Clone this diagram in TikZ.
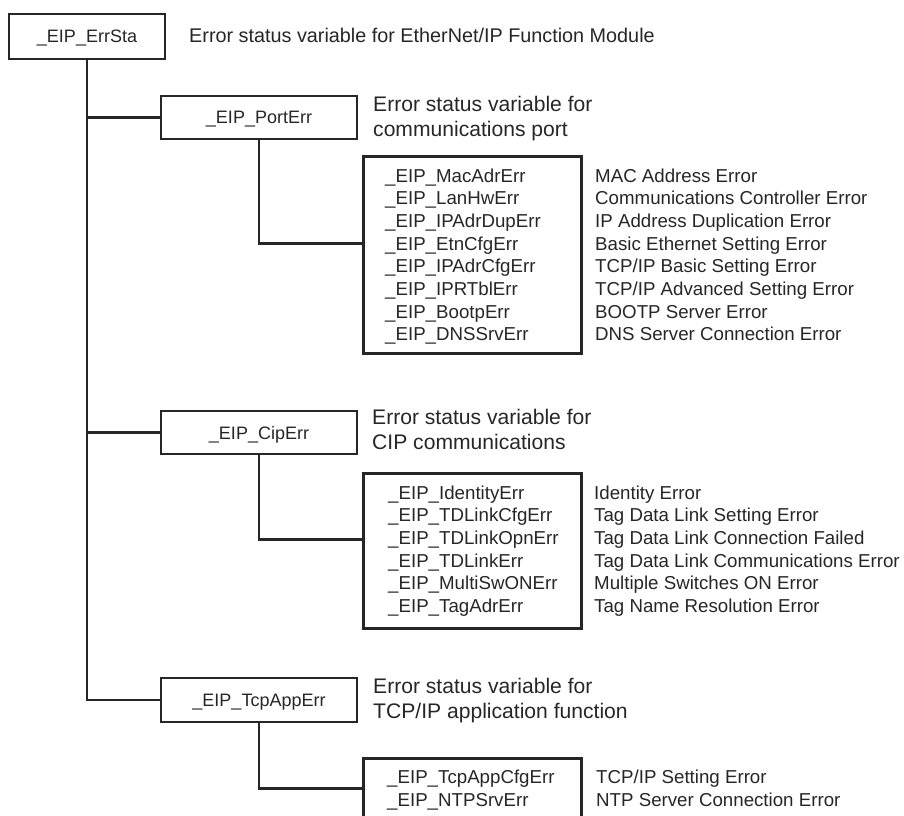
\documentclass[tikz,border=0pt]{standalone}
\usepackage{fontspec}
\setmainfont{Liberation Sans}

\begin{document}
\begin{tikzpicture}[x=1pt,y=-1pt]
\tikzstyle{link}=[draw=black!85,line width=2.8pt]
\tikzstyle{varbox}=[draw=black!85,line width=2.8pt,inner sep=0pt,text depth=0pt,
  text=black!85,minimum width=196pt,minimum height=43pt,font=\fontsize{18}{22}\selectfont]
\tikzstyle{listbox}=[draw=black!85,line width=2.8pt,anchor=north west,inner sep=0pt,
  minimum width=218pt]
\tikzstyle{listtext}=[anchor=north west,inner sep=0pt,align=left,text=black!85,
  font=\fontsize{18.7}{22.67}\selectfont,execute at begin node=\strut]
\tikzstyle{desc}=[anchor=north west,inner sep=0pt,align=left,text=black!85,
  font=\fontsize{21.1}{25}\selectfont,execute at begin node=\strut]

\useasboundingbox (0,0) rectangle (904,815);

%top variable
\node[varbox,minimum width=156pt,minimum height=45pt] (errsta) at (87,36.5) {\_EIP\_ErrSta};
\node[desc,font=\fontsize{19.8}{25}\selectfont] (errstadesc) at (189,25) {Error status variable for EtherNet/IP Function Module};

%communications port
\node[varbox] (porterr) at (259,117.5) {\_EIP\_PortErr};
\node[desc] (porterrdesc) at (373,95.8) {Error status variable for\\communications port};
\node[listbox,minimum height=197pt] (portlist) at (362,155) {};
\node[listtext] (portvars) at (385,168.5) {\_EIP\_MacAdrErr\\\_EIP\_LanHwErr\\\_EIP\_IPAdrDupErr\\
  \_EIP\_EtnCfgErr\\\_EIP\_IPAdrCfgErr\\\_EIP\_IPRTblErr\\\_EIP\_BootpErr\\\_EIP\_DNSSrvErr};
\node[listtext] (portinfo) at (595,168.5) {MAC Address Error\\Communications Controller Error\\
  IP Address Duplication Error\\Basic Ethernet Setting Error\\TCP/IP Basic Setting Error\\
  TCP/IP Advanced Setting Error\\BOOTP Server Error\\DNS Server Connection Error};

%CIP communications
\node[varbox] (ciperr) at (259,432.5) {\_EIP\_CipErr};
\node[desc] (ciperrdesc) at (372,409.2) {Error status variable for\\CIP communications};
\node[listbox,minimum height=155pt] (ciplist) at (362,472) {};
\node[listtext] (cipvars) at (388,485.5) {\_EIP\_IdentityErr\\\_EIP\_TDLinkCfgErr\\\_EIP\_TDLinkOpnErr\\
  \_EIP\_TDLinkErr\\\_EIP\_MultiSwONErr\\\_EIP\_TagAdrErr};
\node[listtext] (cipinfo) at (594,485.5) {Identity Error\\Tag Data Link Setting Error\\
  Tag Data Link Connection Failed\\Tag Data Link Communications Error\\
  Multiple Switches ON Error\\Tag Name Resolution Error};

%TCP/IP application
\node[varbox,minimum height=44pt] (tcpapperr) at (259,700) {\_EIP\_TcpAppErr};
\node[desc] (tcpapperrdesc) at (373,677.5) {Error status variable for\\TCP/IP application function};
\node[listbox,minimum height=83pt] (tcplist) at (362,757) {};
\node[listtext] (tcpvars) at (387,770) {\_EIP\_TcpAppCfgErr\\\_EIP\_NTPSrvErr};
\node[listtext] (tcpinfo) at (596,770) {TCP/IP Setting Error\\NTP Server Connection Error};

%tree lines
\draw[link] (errsta.south) |- (porterr.west);
\draw[link] (errsta.south) |- (ciperr.west);
\draw[link] (errsta.south) |- (tcpapperr.west);
\draw[link] (porterr.south) |- ([yshift=11.5pt]portlist.west);
\draw[link] (ciperr.south) |- ([yshift=11.5pt]ciplist.west);
\draw[link] (tcpapperr.south) |- ([yshift=11.5pt]tcplist.west);

\end{tikzpicture}
\end{document}
